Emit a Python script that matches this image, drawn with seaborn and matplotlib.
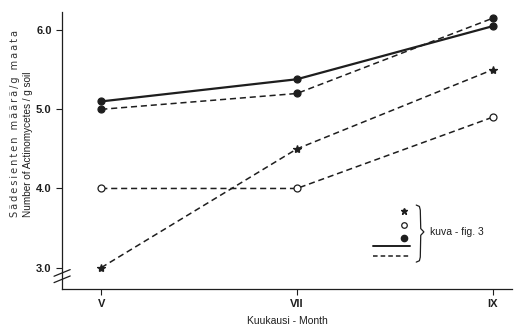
import pandas as pd
import matplotlib.pyplot as plt
import seaborn as sns

# values
months = ["V", "VII", "IX"]
solid_filled = [5.10, 5.38, 6.05]
dashed_filled = [5.00, 5.20, 6.15]
dashed_open = [4.00, 4.00, 4.90]
dashed_star = [3.00, 4.50, 5.50]

yticks = [3.0, 4.0, 5.0, 6.0]
ylabel_fi = "Sädesienten määrä/g maata"
ylabel_en = "Number of Actinomycetes / g soil"
xlabel = "Kuukausi - Month"
legend_text = "kuva - fig. 3"

sns.set_style("ticks")
plt.rcParams['font.family'] = ['Liberation Sans', 'DejaVu Sans']
ink = "#1e1e1e"

fig = plt.figure(figsize=(5.22, 3.29), dpi=100)
ax = fig.add_axes([0.119, 0.1216, 0.862, 0.842])

series = [
    ("solid", solid_filled, "-", "o", ink, 1.6),
    ("filled", dashed_filled, (0, (4, 2.5)), "o", ink, 1.1),
    ("open", dashed_open, (0, (4, 2.5)), "o", "white", 1.1),
    ("star", dashed_star, (0, (4, 2.5)), "*", ink, 1.1),
]
for name, vals, ls, mk, mfc, lw in series:
    df = pd.DataFrame({"x": range(len(months)), "y": vals})
    sns.lineplot(data=df, x="x", y="y", ax=ax, color=ink, linestyle=ls,
                 linewidth=lw, marker=mk, markersize=5 if mk == "o" else 6,
                 markerfacecolor=mfc, markeredgecolor=ink, markeredgewidth=0.9)

ax.set_xlim(-0.2, 2.1)
ax.set_ylim(2.73, 6.23)
ax.set_xticks(range(len(months)))
ax.set_xticklabels(months)
ax.set_yticks(yticks)
ax.set_yticklabels([f"{v:.1f}" for v in yticks])
ax.tick_params(axis="both", labelsize=8, colors=ink, length=4, width=0.8)
for lab in ax.get_xticklabels() + ax.get_yticklabels():
    lab.set_fontweight("bold")
sns.despine(ax=ax)
for s in ("left", "bottom"):
    ax.spines[s].set_color(ink)
    ax.spines[s].set_linewidth(0.9)

ax.set_xlabel(xlabel, fontsize=7.5, color=ink, labelpad=5)
ax.set_ylabel("")
# two-line y label, both lines start at the same height;
# the Finnish line is letter-spaced in the original
spaced_fi = "\u2009".join(ylabel_fi)
fig.text(0.029, 0.34, spaced_fi, rotation=90, ha="center", va="bottom",
         fontsize=7, color="#333333", family="DejaVu Sans")
fig.text(0.054, 0.34, ylabel_en, rotation=90, ha="center", va="bottom",
         fontsize=7.2, color=ink)

# axis break marks
for yb in (0.035, 0.058):
    ax.plot([-0.018, 0.018], [yb - 0.012, yb + 0.012], transform=ax.transAxes,
            color=ink, lw=0.9, clip_on=False)

# key in the lower right
tr = ax.transAxes
ax.plot([0.76], [0.282], marker="*", color=ink, ms=5, transform=tr)
ax.plot([0.76], [0.231], marker="o", mfc="white", mec=ink, ms=4, mew=0.9, transform=tr)
ax.plot([0.76], [0.184], marker="o", color=ink, ms=4.5, transform=tr)
ax.plot([0.691, 0.773], [0.155, 0.155], color=ink, lw=1.4, transform=tr)
ax.plot([0.691, 0.773], [0.119, 0.119], color=ink, lw=1.1,
        linestyle=(0, (3, 2)), transform=tr)
brace_x = [0.787, 0.794, 0.796, 0.797, 0.804, 0.797, 0.796, 0.794, 0.787]
brace_y = [0.303, 0.298, 0.285, 0.218, 0.206, 0.194, 0.115, 0.102, 0.097]
ax.plot(brace_x, brace_y, color=ink, lw=0.9, transform=tr)
ax.text(0.818, 0.205, legend_text, transform=tr, fontsize=7.5, color=ink,
        va="center", ha="left")

fig.savefig("out.png", dpi=100, facecolor="white")
